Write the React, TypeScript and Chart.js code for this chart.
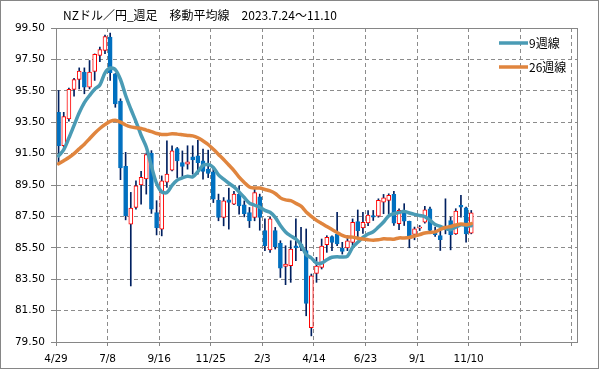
import { useEffect, useRef } from 'react';
import { Chart, registerables } from 'chart.js';

Chart.register(...registerables);

const chartTitle = 'NZドル／円_週足　移動平均線　2023.7.24～11.10';
const xTickLabels = ['4/29', '7/8', '9/16', '11/25', '2/3', '4/14', '6/23', '9/1', '11/10', '', ''];
const legendLabels = ['9週線', '26週線'];

const opens = [
  94.13, 92.01, 93.71, 95.58, 96.22, 96.69, 95.73, 96.73, 97.75, 98.07,
  98.92, 96.58, 94.84, 90.69, 87.01, 88.07, 89.5, 89.88, 91.52, 87.75,
  86.69, 89.68, 90.44, 91.82, 90.93, 90.83, 91.29, 91.36, 91.04, 90.51,
  90.34, 88.53, 87.43, 88.56, 88.28, 88.92, 88.24, 87.75, 87.43, 88.75,
  86.59, 85.36, 86.59, 85.78, 84.31, 84.36, 85.63, 85.74, 85.32, 80.42,
  83.87, 84.25, 85.7, 86.21, 86.38, 85.46, 85.49, 85.85, 87.17, 86.76,
  87.08, 87.56, 87.52, 88.41, 88.52, 88.9, 87.03, 87.77, 87.18, 86.35,
  86.75, 87.14, 87.99, 86.5, 86.28, 86.88, 87.24, 86.39, 88.2, 88.05,
  86.43,
];
const highs = [
  95.52, 94.13, 95.67, 96.3, 96.96, 96.96, 97.43, 97.85, 98.28, 99.05,
  99.18, 96.6, 94.99, 91.58, 89.03, 89.77, 90.37, 91.54, 91.69, 88.5,
  90.08, 92.31, 92.0, 91.89, 91.67, 92.0, 92.0, 92.35, 91.78, 91.72,
  90.61, 88.92, 88.7, 89.3, 89.09, 89.45, 88.49, 88.07, 89.23, 88.92,
  87.34, 87.44, 86.8, 85.95, 85.63, 85.95, 87.34, 86.8, 86.7, 83.83,
  84.89, 86.06, 86.27, 86.27, 87.76, 85.85, 86.27, 87.34, 87.91, 87.76,
  87.87, 87.88, 88.62, 88.9, 88.94, 89.09, 87.99, 88.31, 87.2, 86.82,
  86.92, 88.14, 88.09, 86.82, 86.6, 88.62, 87.45, 87.99, 88.84, 88.09,
  87.88,
];
const lows = [
  90.84, 91.9, 93.56, 95.16, 95.62, 95.31, 95.62, 96.16, 97.35, 97.86,
  96.16, 94.45, 89.84, 87.28, 83.07, 87.96, 88.28, 88.92, 87.69, 86.32,
  86.26, 89.34, 90.4, 89.97, 89.97, 90.51, 90.19, 90.19, 89.87, 89.97,
  88.38, 87.22, 86.9, 86.69, 88.24, 87.64, 87.47, 86.79, 87.22, 86.62,
  85.32, 85.21, 85.42, 83.61, 83.15, 83.3, 84.68, 85.32, 81.17, 79.89,
  83.3, 84.15, 85.21, 85.32, 85.63, 85.1, 85.32, 85.63, 86.06, 86.42,
  86.91, 87.24, 87.45, 87.67, 87.67, 86.92, 86.65, 86.92, 85.5, 86.01,
  86.6, 87.07, 86.5, 86.22, 85.33, 86.39, 85.37, 86.35, 87.45, 85.86,
  86.39,
];
const closes = [
  92.01, 93.86, 95.6, 96.22, 96.75, 95.73, 96.69, 97.82, 98.13, 98.96,
  96.65, 94.67, 90.58, 87.54, 88.03, 89.45, 89.99, 91.43, 87.96, 86.79,
  89.76, 90.19, 91.68, 91.04, 90.68, 90.97, 91.1, 90.93, 90.36, 90.23,
  88.6, 87.43, 88.49, 88.39, 88.92, 88.17, 87.68, 87.22, 89.02, 87.43,
  85.63, 87.34, 85.57, 84.21, 84.46, 85.42, 85.49, 85.53, 81.95, 83.72,
  84.34, 85.61, 86.17, 85.85, 85.74, 85.27, 85.95, 87.12, 86.59, 87.12,
  87.59, 87.45, 88.52, 88.69, 88.84, 87.07, 87.88, 87.2, 86.28, 86.71,
  86.82, 87.92, 86.6, 86.33, 86.01, 86.82, 86.33, 87.84, 88.09, 86.39,
  87.73,
];
const ma9 = [
  91.35, 91.75, 92.5, 93.3, 94.1, 94.75, 95.2, 95.6, 95.87, 96.64,
  96.95, 96.85, 96.22, 95.2, 94.34, 93.54, 92.67, 91.92, 90.7, 89.6,
  89.06, 89.02, 89.48, 89.81, 89.95, 90.06, 90.02, 90.35, 90.75, 90.8,
  90.62, 90.15, 89.87, 89.61, 89.38, 89.06, 88.7, 88.35, 88.21, 88.08,
  87.88, 87.76, 87.44, 86.92, 86.51, 86.26, 86.06, 85.68, 85.07, 84.85,
  84.52, 84.53, 84.74, 84.9, 84.93, 84.91, 84.96, 85.53, 85.85, 86.16,
  86.38, 86.52, 86.82, 87.14, 87.54, 87.67, 87.75, 87.82, 87.72, 87.63,
  87.56, 87.49, 87.26, 86.98, 86.86, 86.74, 86.65, 86.82, 86.97, 86.93,
  86.9,
];
const ma26 = [
  90.85, 91.05, 91.25, 91.5, 91.8, 92.1, 92.45, 92.8, 93.1, 93.35,
  93.55, 93.62, 93.5, 93.32, 93.2, 93.15, 93.1, 93.0, 92.9, 92.78,
  92.72, 92.72, 92.76, 92.74, 92.7, 92.66, 92.63, 92.51, 92.31, 92.08,
  91.77, 91.45, 91.13, 90.77, 90.42, 90.0, 89.66, 89.37, 89.31, 89.31,
  89.21, 89.13, 88.96, 88.68, 88.55, 88.5, 88.33, 88.15, 87.78, 87.5,
  87.25, 87.05, 86.86, 86.66, 86.48, 86.29, 86.19, 86.18, 86.11, 86.06,
  86.01, 85.98, 86.01, 86.07, 86.06, 86.05, 86.13, 86.13, 86.16, 86.25,
  86.34, 86.44, 86.48, 86.51, 86.67, 86.79, 86.86, 86.95, 87.02, 86.97,
  87.04,
];

const UP_EDGE = '#FF0000';
const UP_FILL = '#FFFFFF';
const DOWN = '#0070C0';
const WICK = '#002060';
const MA9_COLOR = '#4A9BB5';
const MA26_COLOR = '#E0853E';
const GRID = '#8C8C8C';
const FRAME = '#868686';

const align = (v: number) => Math.round(v - 0.5) + 0.5;

const decorPlugin = {
  id: 'decor',
  afterDraw(chart: any) {
    const { ctx, chartArea: a } = chart;
    ctx.save();
    ctx.setLineDash([]);
    ctx.lineWidth = 1;
    ctx.strokeStyle = FRAME;
    const l = align(a.left), t = align(a.top), r = align(a.right), b = align(a.bottom);
    ctx.strokeRect(l, t, r - l, b - t);
    ctx.strokeRect(0.5, 0.5, chart.width - 1, chart.height - 1);

    ctx.fillStyle = '#000';
    ctx.textAlign = 'left';
    ctx.textBaseline = 'middle';
    ctx.font = '12px "Noto Sans CJK JP"';
    ctx.fillText(chartTitle, 63, 15.5);

    const colors = [MA9_COLOR, MA26_COLOR];
    const ys = [43, 67];
    legendLabels.forEach((lab, k) => {
      ctx.strokeStyle = colors[k];
      ctx.lineWidth = 3.5;
      ctx.lineCap = 'butt';
      ctx.beginPath();
      ctx.moveTo(499, ys[k]);
      ctx.lineTo(528, ys[k]);
      ctx.stroke();
      ctx.fillStyle = '#000';
      ctx.font = '12px "Noto Sans CJK JP"';
      ctx.fillText(lab, 529, ys[k]);
    });
    ctx.restore();
  },
};

export default function App() {
  const ref = useRef<HTMLCanvasElement | null>(null);

  useEffect(() => {
    if (!ref.current) return;
    const xs = closes.map((_, i) => i + 0.5);
    const isUp = closes.map((c, i) => c >= opens[i]);
    const chart = new Chart(ref.current, {
      type: 'bar',
      data: {
        datasets: [
          {
            type: 'line',
            label: legendLabels[1],
            data: xs.map((x, i) => ({ x, y: ma26[i] })),
            borderColor: MA26_COLOR,
            borderWidth: 3.5,
            pointRadius: 0,
            tension: 0.3,
            borderCapStyle: 'round',
            borderJoinStyle: 'round',
            order: 0,
          } as any,
          {
            type: 'line',
            label: legendLabels[0],
            data: xs.map((x, i) => ({ x, y: ma9[i] })),
            borderColor: MA9_COLOR,
            borderWidth: 3.5,
            pointRadius: 0,
            tension: 0.3,
            borderCapStyle: 'round',
            borderJoinStyle: 'round',
            order: 1,
          } as any,
          {
            type: 'bar',
            label: 'body',
            data: xs.map((x, i) => ({ x, y: [opens[i], closes[i]] })),
            backgroundColor: isUp.map((u) => (u ? UP_FILL : DOWN)),
            borderColor: isUp.map((u) => (u ? UP_EDGE : DOWN)),
            borderWidth: 1,
            borderSkipped: false,
            barThickness: 4,
            grouped: false,
            order: 2,
          } as any,
          {
            type: 'bar',
            label: 'wick',
            data: xs.map((x, i) => ({ x, y: [lows[i], highs[i]] })),
            backgroundColor: WICK,
            borderWidth: 0,
            barThickness: 1,
            grouped: false,
            order: 3,
          } as any,
        ],
      },
      options: {
        animation: false,
        responsive: false,
        events: [],
        layout: { padding: { left: 0, right: 22, top: 28, bottom: 0 } },
        plugins: { legend: { display: false }, tooltip: { enabled: false }, title: { display: false } },
        scales: {
          x: {
            type: 'linear',
            min: 0,
            max: 101,
            offset: false,
            afterFit: (s: any) => { s.height = 27; },
            ticks: {
              stepSize: 10,
              includeBounds: false,
              autoSkip: false,
              maxRotation: 0,
              minRotation: 0,
              color: '#000',
              padding: 7,
              font: { family: 'DejaVu Sans', size: 10.5 },
              callback: (v: any) => xTickLabels[Math.round(Number(v) / 10)] ?? '',
            },
            grid: { offset: false, color: GRID, tickColor: FRAME, tickLength: 4, lineWidth: 1, tickBorderDash: [], borderDash: [4, 3] } as any,
            border: { color: FRAME, width: 1, dash: [4, 3] } as any,
          },
          y: {
            type: 'linear',
            min: 79.5,
            max: 99.5,
            afterFit: (s: any) => { s.width = 56; },
            ticks: {
              stepSize: 2,
              color: '#000',
              padding: 6,
              font: { family: 'DejaVu Sans', size: 10.5 },
              callback: (v: any) => Number(v).toFixed(2),
            },
            grid: { color: GRID, tickColor: FRAME, tickLength: 5, lineWidth: 1, tickBorderDash: [], borderDash: [4, 3] } as any,
            border: { color: FRAME, width: 1, dash: [4, 3] } as any,
          },
        },
      } as any,
      plugins: [decorPlugin],
    });
    return () => chart.destroy();
  }, []);

  return (
    <div style={{ position: 'absolute', left: 0, top: 0, width: 599, height: 369, background: '#fff' }}>
      <canvas ref={ref} width={599} height={369} style={{ width: 599, height: 369, display: 'block' }} />
    </div>
  );
}
